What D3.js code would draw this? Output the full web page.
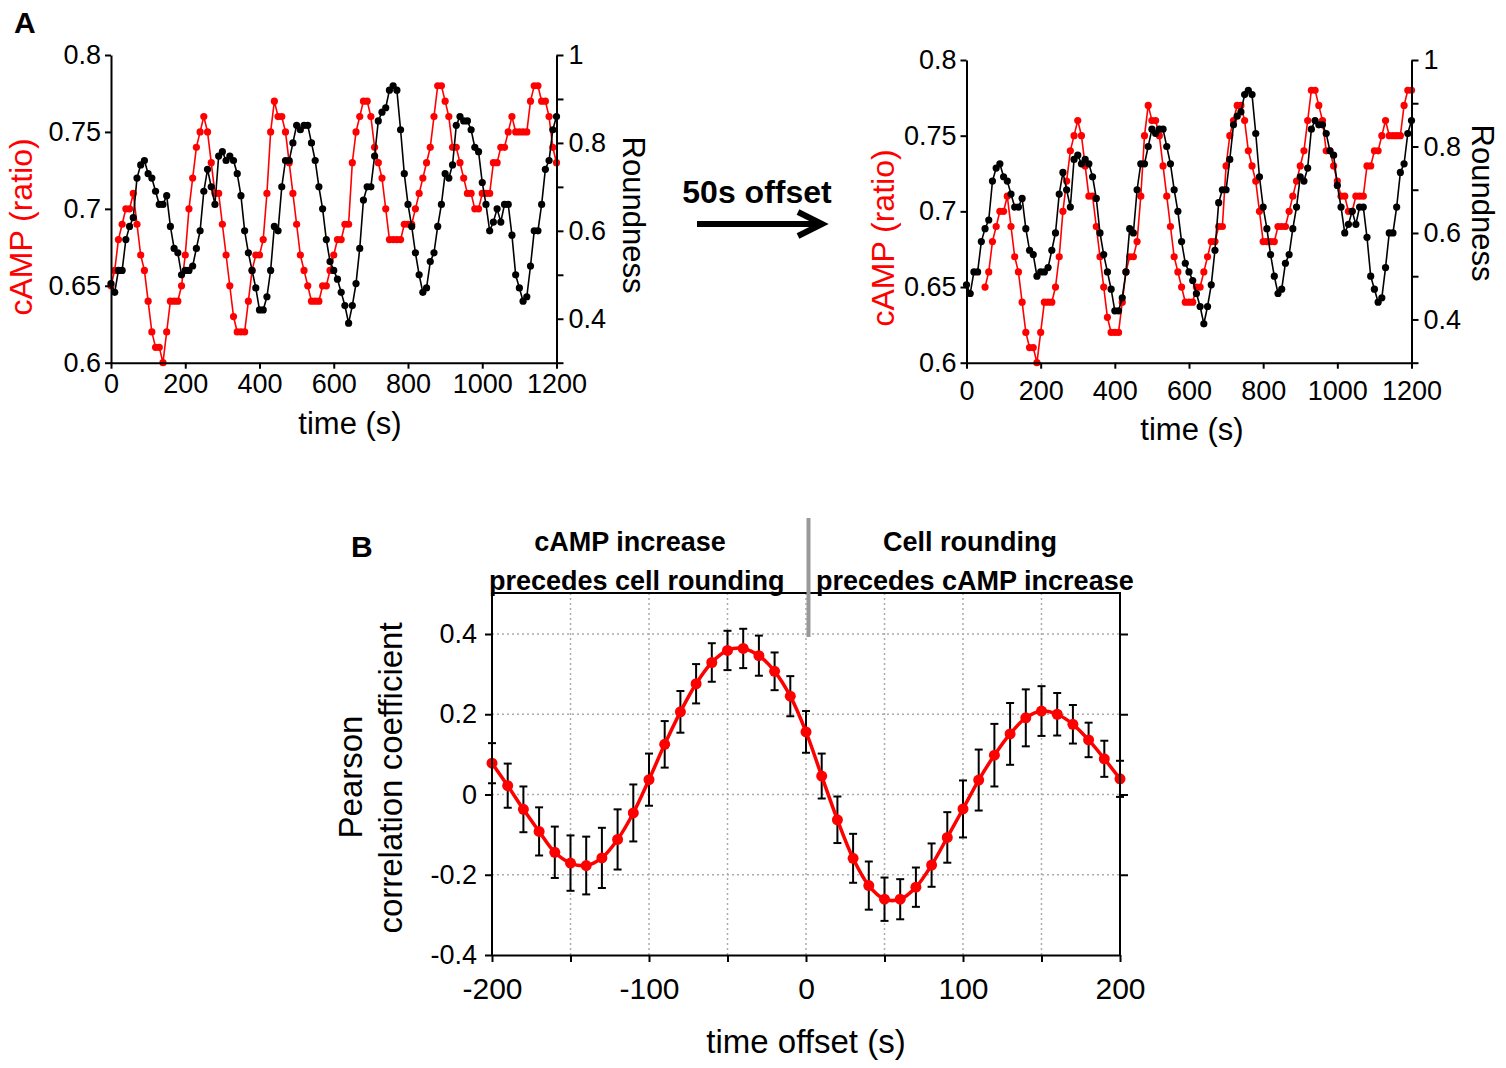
<!DOCTYPE html>
<html><head><meta charset="utf-8">
<script src="https://cdn.jsdelivr.net/npm/d3@7"></script>
<style>
body{margin:0;background:#fff}
svg{display:block}
text{font-family:"Liberation Sans",Arial,Helvetica,sans-serif}
</style>
</head><body>
<svg id="c" width="1506" height="1068"></svg>
<script>
// ---------- DATA (panel A) ----------
const timeStep = 10; // s between samples, first sample at 0 s
const campRatio = [
0.65,0.66,0.68,0.69,0.70,0.70,0.71,0.69,0.67,0.66,
0.64,0.62,0.61,0.61,0.60,0.62,0.64,0.64,0.64,0.65,
0.67,0.70,0.72,0.74,0.75,0.76,0.75,0.73,0.71,0.71,
0.69,0.67,0.65,0.63,0.62,0.62,0.62,0.64,0.66,0.67,
0.67,0.68,0.71,0.75,0.77,0.76,0.76,0.75,0.73,0.71,
0.69,0.67,0.66,0.65,0.64,0.64,0.64,0.65,0.65,0.66,
0.67,0.68,0.68,0.69,0.69,0.73,0.75,0.76,0.77,0.77,
0.76,0.74,0.73,0.72,0.70,0.68,0.68,0.68,0.68,0.69,
0.69,0.69,0.70,0.71,0.72,0.73,0.74,0.76,0.78,0.78,
0.77,0.76,0.74,0.74,0.73,0.72,0.71,0.71,0.70,0.70,
0.71,0.71,0.71,0.73,0.73,0.74,0.74,0.75,0.76,0.75,
0.75,0.75,0.75,0.77,0.78,0.78,0.77,0.77,0.76,0.74,
0.73];
const roundness = [
0.48,0.46,0.51,0.51,0.58,0.61,0.63,0.72,0.75,0.76,
0.73,0.72,0.69,0.66,0.66,0.68,0.61,0.56,0.55,0.50,
0.51,0.51,0.52,0.56,0.60,0.69,0.74,0.70,0.66,0.77,
0.78,0.76,0.77,0.76,0.73,0.68,0.60,0.55,0.51,0.47,
0.42,0.42,0.45,0.51,0.61,0.60,0.70,0.76,0.76,0.80,
0.84,0.83,0.84,0.84,0.80,0.76,0.70,0.65,0.58,0.53,
0.51,0.49,0.46,0.43,0.39,0.43,0.48,0.56,0.67,0.70,
0.70,0.77,0.85,0.87,0.88,0.92,0.93,0.92,0.83,0.73,
0.66,0.61,0.55,0.50,0.46,0.47,0.53,0.55,0.61,0.66,
0.73,0.72,0.75,0.84,0.86,0.85,0.85,0.83,0.79,0.78,
0.71,0.66,0.60,0.62,0.65,0.62,0.66,0.66,0.59,0.50,
0.47,0.44,0.45,0.52,0.60,0.60,0.66,0.74,0.76,0.83,
0.86];
const campShift = 50; // s, applied in the right-hand plot
const timeTicks = [0,200,400,600,800,1000,1200];
const campTicks = [0.6,0.65,0.7,0.75,0.8];
const campTickLabels = ["0.6","0.65","0.7","0.75","0.8"];
const roundTicks = [0.3,0.4,0.5,0.6,0.7,0.8,0.9,1.0];
const roundTickLabels = ["","0.4","","0.6","","0.8","","1"];

// ---------- DATA (panel B) ----------
const lagOffsets = [-200,-190,-180,-170,-160,-150,-140,-130,-120,-110,-100,-90,-80,-70,-60,-50,-40,-30,-20,-10,0,
10,20,30,40,50,60,70,80,90,100,110,120,130,140,150,160,170,180,190,200];
const pearson = [0.078,0.022,-0.037,-0.092,-0.144,-0.171,-0.177,-0.158,-0.112,-0.046,0.037,0.125,0.206,0.276,0.329,0.359,0.364,0.346,0.307,0.245,0.156,
0.046,-0.063,-0.159,-0.227,-0.261,-0.261,-0.231,-0.176,-0.107,-0.036,0.036,0.098,0.151,0.191,0.208,0.200,0.175,0.136,0.089,0.039];
const pearsonErr = [0.05,0.055,0.057,0.06,0.064,0.069,0.072,0.075,0.075,0.071,0.065,0.058,0.052,0.049,0.048,0.049,0.049,0.05,0.047,0.05,0.052,
0.056,0.058,0.061,0.06,0.054,0.05,0.049,0.054,0.063,0.071,0.076,0.078,0.077,0.071,0.062,0.053,0.048,0.043,0.045,0.045];
const lagTicks = [-200,-100,0,100,200];
const lagTickLabels = ["-200","-100","0","100","200"];
const lagMinorTicks = [-200,-150,-100,-50,0,50,100,150,200];
const lagGrid = [-150,-100,-50,0,50,100,150];
const pearsonTicks = [-0.4,-0.2,0,0.2,0.4];
const pearsonTickLabels = ["-0.4","-0.2","0","0.2","0.4"];
const pearsonGrid = [-0.2,0,0.2,0.4];

const RED = "#ff0000";
const svg = d3.select("#c");

function styleAxis(g, fs){
  g.select(".domain").attr("stroke","#000").attr("stroke-width",2);
  g.selectAll(".tick line").attr("stroke","#000").attr("stroke-width",2);
  g.selectAll(".tick text").attr("font-size",fs).attr("fill","#000")
    .attr("font-family",'"Liberation Sans",Arial,sans-serif');
}

function drawA(o){
  const g = svg.append("g");
  const x = d3.scaleLinear().domain([0,1200]).range([o.x0,o.x1]);
  const yC = d3.scaleLinear().domain([0.6,0.8]).range([o.yBot,o.yTop]);
  const yR = d3.scaleLinear().domain([0.3,1.0]).range([o.yBot,o.yTop]);

  const red = campRatio.map((v,i)=>({t:i*timeStep+o.shift, v}))
    .filter(d=>d.t<=1200);
  const blk = roundness.map((v,i)=>({t:i*timeStep, v}));

  const lineC = d3.line().x(d=>x(d.t)).y(d=>yC(d.v));
  const lineR = d3.line().x(d=>x(d.t)).y(d=>yR(d.v));

  g.append("path").datum(red).attr("d",lineC).attr("fill","none")
    .attr("stroke",RED).attr("stroke-width",1.6);
  g.selectAll(".rd").data(red).join("circle").attr("cx",d=>x(d.t)).attr("cy",d=>yC(d.v))
    .attr("r",3.6).attr("fill",RED);
  g.append("path").datum(blk).attr("d",lineR).attr("fill","none")
    .attr("stroke","#000").attr("stroke-width",1.6);
  g.selectAll(".bk").data(blk).join("circle").attr("cx",d=>x(d.t)).attr("cy",d=>yR(d.v))
    .attr("r",3.6).attr("fill","#000");

  const ax1 = g.append("g").attr("transform",`translate(${o.x0},0)`)
    .call(d3.axisLeft(yC).tickValues(campTicks).tickFormat((d,i)=>campTickLabels[i])
      .tickSize(6).tickSizeOuter(0).tickPadding(4));
  styleAxis(ax1,27);
  const ax2 = g.append("g").attr("transform",`translate(0,${o.yBot})`)
    .call(d3.axisBottom(x).tickValues(timeTicks).tickFormat(d3.format("d"))
      .tickSize(6).tickSizeOuter(0).tickPadding(o.xPad));
  styleAxis(ax2,27);
  const ax3 = g.append("g").attr("transform",`translate(${o.x1},0)`)
    .call(d3.axisRight(yR).tickValues(roundTicks).tickFormat((d,i)=>roundTickLabels[i])
      .tickSize(7).tickSizeOuter(0).tickPadding(5));
  styleAxis(ax3,27);

  g.append("text").attr("x",o.xTitleX).attr("y",o.xTitleY).attr("text-anchor","middle")
    .attr("font-size",31).text("time (s)");
  g.append("text").attr("transform",`translate(${o.cTitleX},${o.cTitleY}) rotate(-90)`)
    .attr("text-anchor","middle").attr("font-size",32).attr("fill",RED).text("cAMP (ratio)");
  g.append("text").attr("transform",`translate(${o.rTitleX},${o.rTitleY}) rotate(90)`)
    .attr("text-anchor","middle").attr("font-size",31).attr("fill","#000").text("Roundness");
}

drawA({x0:111,x1:556.5,yTop:55,yBot:362.7,shift:0,xPad:5,
  xTitleX:350,xTitleY:434,cTitleX:32,cTitleY:227,rTitleX:623,rTitleY:215});
drawA({x0:966.5,x1:1411.5,yTop:60,yBot:362.7,shift:campShift,xPad:12,
  xTitleX:1192,xTitleY:440,cTitleX:894,cTitleY:238,rTitleX:1472,rTitleY:203});

// labels A
svg.append("text").attr("x",14).attr("y",33).attr("font-size",30).attr("font-weight","bold").text("A");
svg.append("text").attr("x",757).attr("y",203).attr("text-anchor","middle")
  .attr("font-size",32).attr("font-weight","bold").text("50s offset");
svg.append("line").attr("x1",697).attr("x2",820).attr("y1",224).attr("y2",224)
  .attr("stroke","#000").attr("stroke-width",6);
svg.append("path").attr("d","M798,212 L822,224 L798,236").attr("fill","none")
  .attr("stroke","#000").attr("stroke-width",6).attr("stroke-linejoin","miter");

// ---------- PANEL B ----------
const gB = svg.append("g");
const bx = d3.scaleLinear().domain([-200,200]).range([492,1120]);
const by = d3.scaleLinear().domain([-0.4,0.4]).range([955,634]);
const bTop = 593;

// grid
gB.selectAll(".vg").data(lagGrid).join("line")
  .attr("x1",d=>bx(d)).attr("x2",d=>bx(d)).attr("y1",bTop).attr("y2",955)
  .attr("stroke","#aaa").attr("stroke-width",1.5).attr("stroke-dasharray","2,3");
gB.selectAll(".hg").data(pearsonGrid).join("line")
  .attr("x1",492).attr("x2",1120).attr("y1",d=>by(d)).attr("y2",d=>by(d))
  .attr("stroke","#aaa").attr("stroke-width",1.5).attr("stroke-dasharray","2,3");

// error bars
const bd = lagOffsets.map((t,i)=>({t, v:pearson[i], e:pearsonErr[i]}));
const eb = gB.selectAll(".eb").data(bd).join("g");
eb.append("line").attr("x1",d=>bx(d.t)).attr("x2",d=>bx(d.t))
  .attr("y1",d=>by(d.v+d.e)).attr("y2",d=>by(d.v-d.e)).attr("stroke","#000").attr("stroke-width",2);
eb.append("line").attr("x1",d=>bx(d.t)-4).attr("x2",d=>bx(d.t)+4)
  .attr("y1",d=>by(d.v+d.e)).attr("y2",d=>by(d.v+d.e)).attr("stroke","#000").attr("stroke-width",2);
eb.append("line").attr("x1",d=>bx(d.t)-4).attr("x2",d=>bx(d.t)+4)
  .attr("y1",d=>by(d.v-d.e)).attr("y2",d=>by(d.v-d.e)).attr("stroke","#000").attr("stroke-width",2);

gB.append("path").datum(bd)
  .attr("d",d3.line().x(d=>bx(d.t)).y(d=>by(d.v)).curve(d3.curveCatmullRom))
  .attr("fill","none").attr("stroke",RED).attr("stroke-width",3.5);
gB.selectAll(".bp").data(bd).join("circle").attr("cx",d=>bx(d.t)).attr("cy",d=>by(d.v))
  .attr("r",5.5).attr("fill",RED);

// axes
const bl = gB.append("g").attr("transform","translate(492,0)")
  .call(d3.axisLeft(by).tickValues(pearsonTicks).tickFormat((d,i)=>pearsonTickLabels[i])
    .tickSize(7).tickSizeOuter(0).tickPadding(8));
styleAxis(bl,27);
bl.select(".domain").attr("d",`M0,${bTop}V955`);
const bb = gB.append("g").attr("transform","translate(0,955)")
  .call(d3.axisBottom(bx).tickValues(lagMinorTicks)
    .tickFormat(d=>{const k=lagTicks.indexOf(d); return k>=0?lagTickLabels[k]:"";})
    .tickSize(7).tickSizeOuter(0).tickPadding(16));
styleAxis(bb,30);
const br = gB.append("g").attr("transform","translate(1120,0)")
  .call(d3.axisRight(by).tickValues(pearsonTicks.filter(d=>d>-0.4)).tickFormat("")
    .tickSize(8).tickSizeOuter(0));
styleAxis(br,27);
br.select(".domain").attr("d",`M0,${bTop}V955`);
gB.append("line").attr("x1",491).attr("x2",1121).attr("y1",bTop).attr("y2",bTop)
  .attr("stroke","#000").attr("stroke-width",2);

// divider
gB.append("line").attr("x1",808.5).attr("x2",808.5).attr("y1",518).attr("y2",637)
  .attr("stroke","#999").attr("stroke-width",4);

// titles
gB.append("text").attr("x",806).attr("y",1053).attr("text-anchor","middle").attr("font-size",33).text("time offset (s)");
gB.append("text").attr("transform","translate(362,777) rotate(-90)").attr("text-anchor","middle")
  .attr("font-size",33).text("Pearson");
gB.append("text").attr("transform","translate(402,778) rotate(-90)").attr("text-anchor","middle")
  .attr("font-size",33).text("correlation coefficient");
svg.append("text").attr("x",351).attr("y",557).attr("font-size",30).attr("font-weight","bold").text("B");
gB.append("text").attr("x",630).attr("y",551).attr("text-anchor","middle").attr("font-size",27)
  .attr("font-weight","bold").text("cAMP increase");
gB.append("text").attr("x",489).attr("y",590).attr("font-size",27)
  .attr("font-weight","bold").text("precedes cell rounding");
gB.append("text").attr("x",970).attr("y",551).attr("text-anchor","middle").attr("font-size",27)
  .attr("font-weight","bold").text("Cell rounding");
gB.append("text").attr("x",816).attr("y",590).attr("font-size",27)
  .attr("font-weight","bold").text("precedes cAMP increase");
</script>
</body></html>
